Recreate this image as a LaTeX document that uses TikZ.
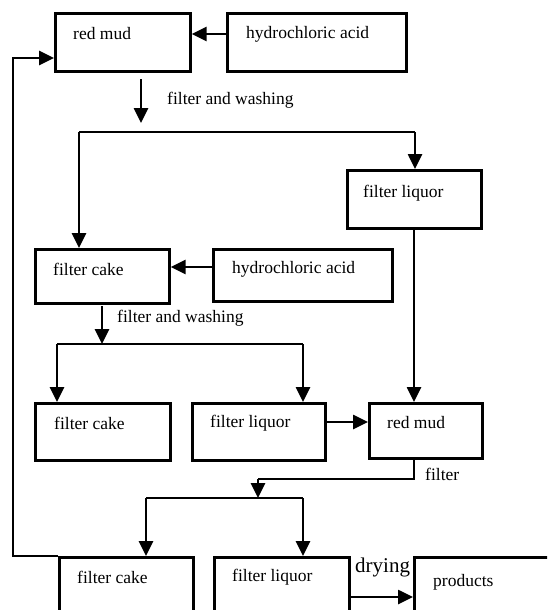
\documentclass[tikz,border=0pt]{standalone}
\usepackage{fontspec}
\setmainfont{Liberation Serif}
\usetikzlibrary{arrows.meta,calc}
\tikzset{
  box/.style={draw, line width=2.6pt, inner sep=0pt, anchor=north west},
  lbl/.style={anchor=west, inner sep=0pt, font=\fontsize{17.5}{20}\selectfont},
  conn/.style={line width=2.6pt},
  arr/.style={conn, -{Triangle[length=15pt,width=14pt]}}
}
\begin{document}
\begin{tikzpicture}[x=1pt,y=-1pt]
\useasboundingbox (0,0) rectangle (547,610);
\clip (0,0) rectangle (547,610);
% boxes
\node[box, minimum width=135, minimum height=58] (rm1) at (54,12) {};
\node[box, minimum width=179, minimum height=58] (hcl1) at (226,12) {};
\node[box, minimum width=134, minimum height=58] (fl1) at (346,169) {};
\node[box, minimum width=134, minimum height=54] (fc2) at (34,248) {};
\node[box, minimum width=179, minimum height=52] (hcl2) at (212,248) {};
\node[box, minimum width=135, minimum height=57] (fc3) at (34,402) {};
\node[box, minimum width=133, minimum height=57] (fl3) at (191,402) {};
\node[box, minimum width=113, minimum height=55] (rm3) at (368,402) {};
\node[box, minimum width=134, minimum height=70] (fc4) at (58,556) {};
\node[box, minimum width=135, minimum height=70] (fl4) at (213,556) {};
\node[box, minimum width=150, minimum height=70] (pr4) at (413,556) {};
% labels
\node[lbl] at ($(rm1.north west)+(19,22)$) {red mud};
\node[lbl] at ($(hcl1.north west)+(20,22)$) {hydrochloric acid};
\node[lbl] at ($(fl1.north west)+(17,24)$) {filter liquor};
\node[lbl] at ($(fc2.north west)+(19,21)$) {filter cake};
\node[lbl] at ($(hcl2.north west)+(20,21)$) {hydrochloric acid};
\node[lbl] at ($(fc3.north west)+(20,21)$) {filter cake};
\node[lbl] at ($(fl3.north west)+(19,21)$) {filter liquor};
\node[lbl] at ($(rm3.north west)+(19,21)$) {red mud};
\node[lbl] at ($(fc4.north west)+(19,21)$) {filter cake};
\node[lbl] at ($(fl4.north west)+(19,21)$) {filter liquor};
\node[lbl] at ($(pr4.north west)+(20,26)$) {products};
\node[lbl] (fw1) at (167,100) {filter and washing};
\node[lbl] (fw2) at (117,318) {filter and washing};
\node[lbl] (ft3) at (425,474) {filter};
\node[lbl, font=\fontsize{21}{24}\selectfont] (dr) at (355,567) {drying};
% coordinates
\coordinate (s1a) at (141,79);
\coordinate (s1b) at (141,123);
\coordinate (s1l) at (79,132);
\coordinate (s1r) at (415,132);
\coordinate (s2a) at (102,306);
\coordinate (s2b) at (102,344);
\coordinate (s2l) at (57,344);
\coordinate (s2r) at (303,344);
\coordinate (s3a) at (414,479);
\coordinate (s3b) at (258,479);
\coordinate (s3c) at (258,498);
\coordinate (s3l) at (146,498);
\coordinate (s3r) at (303,498);
\coordinate (fb) at (13,556);
% connectors
\draw[arr] (hcl1.north west |- 0,34) -- (rm1.north east |- 0,34);
\draw[arr] (s1a) -- (s1b);
\draw[conn] (s1l) -- (s1r);
\draw[arr] (s1l) -- (s1l |- fc2.north);
\draw[arr] (s1r) -- (s1r |- fl1.north);
\draw[arr] (hcl2.north west |- 0,267) -- (fc2.north east |- 0,267);
\draw[arr] (s2a) -- (s2b);
\draw[conn] (s2l) -- (s2r);
\draw[arr] (s2l) -- (s2l |- fc3.north);
\draw[arr] (s2r) -- (s2r |- fl3.north);
\draw[arr] (fl1.south -| 414,0) -- (rm3.north -| 414,0);
\draw[arr] (fl3.north east |- 0,422) -- (rm3.north west |- 0,422);
\draw[conn] (rm3.south -| 414,0) -- (s3a) -- (s3b);
\draw[arr] (s3b) -- (s3c);
\draw[conn] (s3l) -- (s3r);
\draw[arr] (s3l) -- (s3l |- fc4.north);
\draw[arr] (s3r) -- (s3r |- fl4.north);
\draw[arr] (fl4.north east |- 0,597) -- (pr4.north west |- 0,597);
\draw[arr] (fc4.north west) -- (fb) |- (rm1.north west |- 0,58);
\end{tikzpicture}
\end{document}
